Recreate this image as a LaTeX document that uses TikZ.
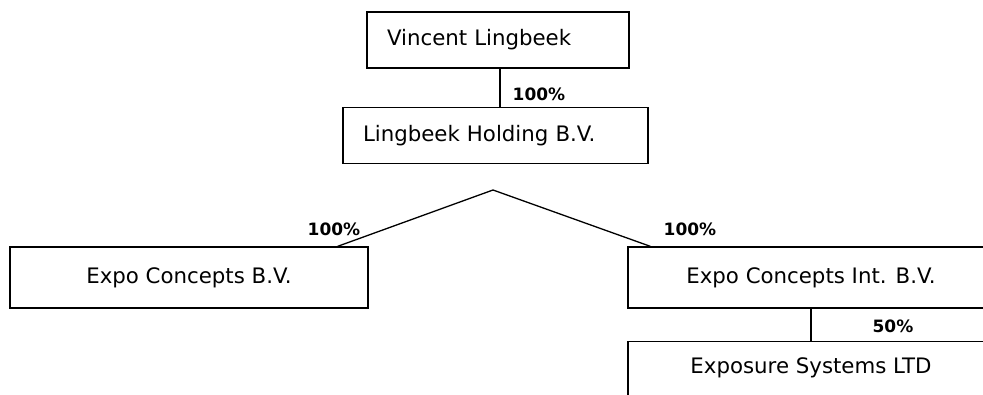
\documentclass[tikz,border=0pt]{standalone}
\usepackage{fontspec}
\setmainfont{DejaVu Sans}
\usetikzlibrary{positioning}

\begin{document}
\begin{tikzpicture}[x=1pt,y=-1pt,line width=1.3pt,
    box/.style={draw,rectangle,minimum height=61pt,inner xsep=20pt,font=\fontsize{21.3}{25}\selectfont},
    pct/.style={font=\bfseries\fontsize{17}{20}\selectfont,inner sep=0pt}]
      \useasboundingbox (0,0) rectangle (983,395);
      \node (V) [box,minimum height=56pt,text width=222pt,align=left] at (498,40) {Vincent Lingbeek};
      \node (H) [box,minimum height=56pt,text width=265pt,align=left,below=38pt of V,xshift=-2.5pt] {Lingbeek Holding B.V.};
      \node (L) [box,minimum width=358pt] at (189,277.5) {Expo Concepts B.V.};
      \node (R) [box,minimum width=366pt] at (811,277.5) {Expo Concepts Int. B.V.};
      \node (X) [box,minimum width=366pt,text depth=13pt,below=32pt of R] {Exposure Systems LTD};
      \coordinate (P) at (493,190);
      \draw ([xshift=2pt]V.south) -- ([xshift=2pt]V.south |- H.north);
      \draw ([xshift=-31pt]L.north east) -- (P) -- ([xshift=23pt]R.north west);
      \draw (R.south) -- (X.north);
      \node (p1) [pct] at (539,94) {100\%};
      \node (p2) [pct] at (334,229) {100\%};
      \node (p3) [pct] at (690,229) {100\%};
      \node (p4) [pct] at (893,326) {50\%};
\end{tikzpicture}
\end{document}
